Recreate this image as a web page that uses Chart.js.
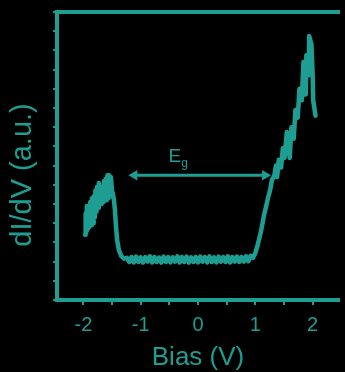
<!DOCTYPE html>
<html>
<head>
<meta charset="utf-8">
<script src="https://cdn.jsdelivr.net/npm/chart.js@4/dist/chart.umd.min.js"></script>
<style>
  html, body { margin: 0; padding: 0; background: #000; }
  canvas { display: block; }
</style>
</head>
<body>
<canvas id="chart" width="345" height="372"></canvas>
<script>
// Spektrum: linke Flanke, Lücke, rechte Flanke (Bias in V, dI/dV in a.u.)
const leftBias = [-1.97,-1.96,-1.95,-1.94,-1.92,-1.91,-1.89,-1.88,-1.86,-1.85,
  -1.83,-1.82,-1.80,-1.79,-1.77,-1.76,-1.74,-1.73,-1.71,-1.70,
  -1.68,-1.67,-1.65,-1.64,-1.62,-1.61,-1.59,-1.58,-1.56,-1.55,
  -1.53,-1.52,-1.50,-1.47,-1.45,-1.43,-1.41,-1.38,-1.34,-1.29,-1.24];
const leftDidv = [3.4,4.5,3.6,4.9,3.7,4.7,3.8,5.1,3.9,5.3,
  4.0,5.4,4.3,5.7,4.6,5.9,4.8,6.1,5.0,5.8,
  5.0,5.9,5.1,6.2,5.2,6.3,5.2,6.5,5.3,6.5,
  5.4,6.4,5.7,5.3,4.7,3.8,3.1,2.6,2.3,2.15,2.2];

const gapBias = [-1.20,-1.16,-1.12,-1.08,-1.04,-1.00,-0.96,-0.92,-0.88,-0.84,
  -0.80,-0.76,-0.72,-0.68,-0.64,-0.60,-0.56,-0.52,-0.48,-0.44,
  -0.40,-0.36,-0.32,-0.28,-0.24,-0.20,-0.16,-0.12,-0.08,-0.04,
  0.00,0.04,0.08,0.12,0.16,0.20,0.24,0.28,0.32,0.36,
  0.40,0.44,0.48,0.52,0.56,0.60,0.64,0.68,0.72,0.76,
  0.80,0.84,0.88,0.92];
const gapDidv = [1.98,2.24,1.96,2.26,1.98,2.22,1.95,2.24,2.00,2.27,
  1.96,2.24,1.98,2.21,1.95,2.26,1.98,2.24,1.96,2.22,
  2.00,2.27,1.96,2.24,1.98,2.26,1.95,2.22,1.98,2.24,
  1.96,2.26,2.00,2.24,1.96,2.27,1.98,2.22,1.96,2.26,
  2.00,2.24,1.98,2.27,1.96,2.24,2.00,2.26,1.98,2.24,
  2.00,2.28,2.02,2.30];

const rightBias = [0.96,1.00,1.03,1.06,1.09,1.12,1.15,1.19,1.22,1.26,
  1.29,1.33,1.36,1.38,1.41,1.45,1.48,1.51,1.55,1.58,
  1.60,1.63,1.67,1.70,1.74,1.77,1.81,1.84,1.88,1.89,
  1.93,1.94,1.98,2.00,2.01,2.05];
const rightDidv = [2.20,2.45,2.75,3.10,3.45,3.90,4.40,4.90,5.30,5.75,
  6.25,6.45,7.00,6.40,7.30,6.90,7.90,7.40,8.75,7.90,
  7.40,9.00,8.40,9.90,9.50,11.00,10.40,12.40,10.70,12.75,
  11.70,13.75,13.30,11.70,10.40,9.60];

const xTickLabels = [-2, -1, 0, 1, 2];

// Pfeil für die Bandlücke E_g
const gapArrowBias = [-1.11, 1.17];
const gapArrowLevel = [6.5, 6.5];
const gapLabelBias = -0.41;
const gapLabelLevel = 7.55;

const teal = '#1e9e92';
const fontFamily = '"Liberation Sans", Arial, sans-serif';

function toPoints(xs, ys) {
  return xs.map((x, i) => ({ x: x, y: ys[i] }));
}
const spectrum = [
  ...toPoints(leftBias, leftDidv),
  ...toPoints(gapBias, gapDidv),
  ...toPoints(rightBias, rightDidv)
];

// E_g Beschriftung und y-Achsentitel
const labelPlugin = {
  id: 'labels',
  afterDatasetsDraw(chart) {
    const ctx = chart.ctx;
    const x = chart.scales.x.getPixelForValue(gapLabelBias);
    const y = chart.scales.y.getPixelForValue(gapLabelLevel);
    ctx.save();
    ctx.fillStyle = teal;
    ctx.textBaseline = 'alphabetic';
    ctx.textAlign = 'left';
    ctx.font = '19px ' + fontFamily;
    ctx.fillText('E', x - 6, y + 7);
    const w = ctx.measureText('E').width;
    ctx.font = '12px ' + fontFamily;
    ctx.fillText('g', x - 6 + w, y + 12);

    // y-Titel sitzt im Original tiefer als die Mitte der Achse
    ctx.translate(23, 175);
    ctx.rotate(-Math.PI / 2);
    ctx.textAlign = 'center';
    ctx.textBaseline = 'middle';
    ctx.font = '29px ' + fontFamily;
    ctx.fillText('dI/dV (a.u.)', 0, 0);
    ctx.restore();
  }
};

new Chart(document.getElementById('chart'), {
  type: 'line',
  data: {
    datasets: [
      {
        data: spectrum,
        borderColor: teal,
        borderWidth: 4.5,
        borderJoinStyle: 'round',
        borderCapStyle: 'round',
        pointRadius: 0,
        tension: 0
      },
      {
        data: toPoints(gapArrowBias, gapArrowLevel),
        borderColor: teal,
        borderWidth: 3,
        pointStyle: 'triangle',
        pointRadius: 6,
        pointRotation: [-90, 90],
        pointBackgroundColor: teal,
        pointBorderWidth: 0
      }
    ]
  },
  options: {
    responsive: false,
    animation: false,
    layout: { padding: 0 },
    plugins: { legend: { display: false }, tooltip: { enabled: false } },
    scales: {
      x: {
        type: 'linear',
        position: 'bottom',
        min: -2.46,
        max: 2.46,
        afterFit: (scale) => { scale.height = 72; },
        border: { display: true, color: teal, width: 4 },
        grid: { drawOnChartArea: false, drawTicks: true, tickLength: 5, color: teal, lineWidth: 2 },
        ticks: {
          stepSize: 0.5,
          includeBounds: false,
          autoSkip: false,
          maxRotation: 0,
          padding: 8,
          color: teal,
          font: { family: fontFamily, size: 20 },
          callback: (v) => xTickLabels.includes(v) ? String(v) : ''
        },
        title: {
          display: true,
          text: 'Bias (V)',
          color: teal,
          font: { family: fontFamily, size: 26, lineHeight: 1 },
          padding: { top: 0, bottom: 1 }
        }
      },
      x2: {
        type: 'linear',
        position: 'top',
        min: -2.46,
        max: 2.46,
        afterFit: (scale) => { scale.height = 12; },
        border: { display: true, color: teal, width: 4 },
        grid: { display: false },
        ticks: { display: false }
      },
      y: {
        type: 'linear',
        min: 0,
        max: 15,
        afterFit: (scale) => { scale.width = 57; },
        border: { display: true, color: teal, width: 4 },
        grid: { drawOnChartArea: false, drawTicks: true, tickLength: 4, color: teal, lineWidth: 2 },
        ticks: { display: false, stepSize: 1 }
      }
    }
  },
  plugins: [labelPlugin]
});
</script>
</body>
</html>
